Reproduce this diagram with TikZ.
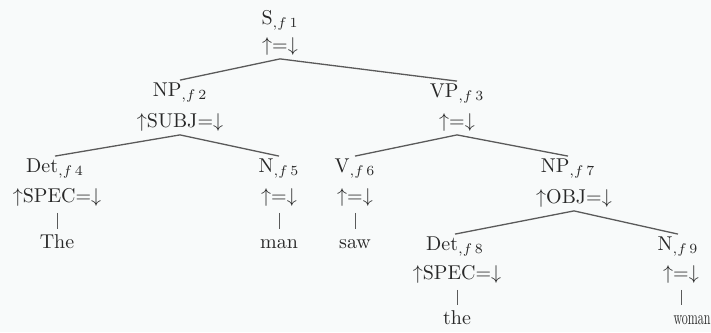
\documentclass[tikz,border=0pt]{standalone}
\definecolor{ink}{RGB}{40,40,40}
\definecolor{edge}{RGB}{90,90,90}
\definecolor{paper}{RGB}{248,250,250}
\tikzset{
  cat/.style={inner sep=1pt,text height=7pt,text depth=2.5pt,text=ink},
  ann/.style={cat},
  word/.style={cat},
  branch/.style={draw=edge,line width=0.65pt},
  tick/.style={branch,line width=0.45pt,shorten <=1.5pt,shorten >=1.5pt}
}
\newcommand{\fs}[1]{$_{,f\,#1}$}
\newcommand{\eqd}[1]{$\uparrow$#1=$\downarrow$}
\begin{document}
\begin{tikzpicture}[x=0.5pt,y=-0.5pt]
  \fill[paper] (0,0) rectangle (711,332);
  \useasboundingbox (0,0) rectangle (711,332);
  % S
  \node[cat] (s) at (280,20) {S\fs{1}};
  \node[ann] (s-a) at (280,47) {\eqd{}};
  % first level
  \node[cat] (np2) at (180,92) {NP\fs{2}};
  \node[ann] (np2-a) at (180,123) {\eqd{SUBJ}};
  \node[cat] (vp3) at (457,93) {VP\fs{3}};
  \node[ann] (vp3-a) at (457,123) {\eqd{}};
  % second level
  \node[cat] (det4) at (55,168) {Det\fs{4}};
  \node[ann] (det4-a) at (57,198) {\eqd{SPEC}};
  \node[word] (the) at (57,244) {The};
  \node[cat] (n5) at (279,168) {N\fs{5}};
  \node[ann] (n5-a) at (279,198) {\eqd{}};
  \node[word] (man) at (279,244) {man};
  \node[cat] (v6) at (355,168) {V\fs{6}};
  \node[ann] (v6-a) at (355,198) {\eqd{}};
  \node[word] (saw) at (355,244) {saw};
  \node[cat] (np7) at (568,168) {NP\fs{7}};
  \node[ann] (np7-a) at (574,199) {\eqd{OBJ}};
  % third level
  \node[cat] (det8) at (455,246) {Det\fs{8}};
  \node[ann] (det8-a) at (457,275) {\eqd{SPEC}};
  \node[word] (the2) at (457,320) {the};
  \node[cat] (n9) at (678,246) {N\fs{9}};
  \node[ann] (n9-a) at (681,275) {\eqd{}};
  \node[word,xscale=0.6,transform shape] (woman) at (692,320) {woman};
  % branches
  \draw[branch] (np2.north) -- (s-a.south) -- (vp3.north);
  \draw[branch] (det4.north) -- (np2-a.south) -- (n5.north);
  \draw[branch] (v6.north) -- (vp3-a.south) -- (np7.north);
  \draw[branch] (det8.north) -- (np7-a.south) -- (n9.north);
  \foreach \a/\b in {det4-a/the,n5-a/man,v6-a/saw,det8-a/the2}
    \draw[tick] (\a.south) -- (\b.north);
  \draw[tick] (n9-a.south) -- (n9-a.south |- woman.north);
\end{tikzpicture}
\end{document}
